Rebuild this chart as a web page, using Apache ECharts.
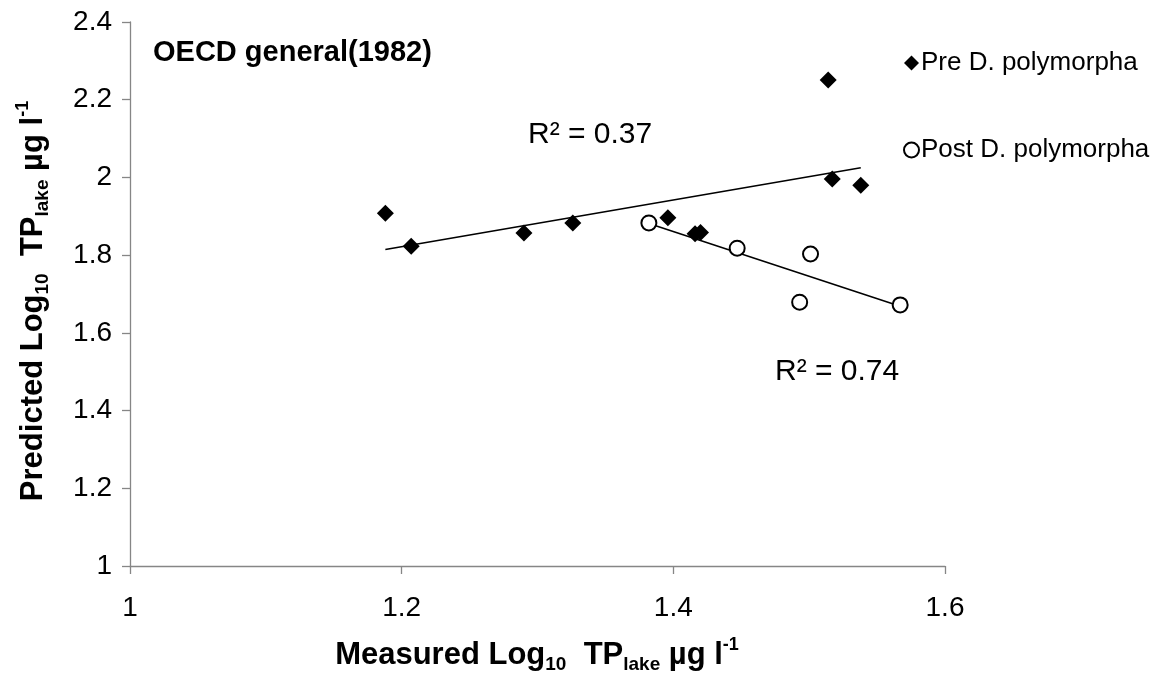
<!DOCTYPE html>
<html><head><meta charset="utf-8">
<script src="https://cdn.jsdelivr.net/npm/echarts@6/dist/echarts.min.js"></script>
<style>html,body{margin:0;padding:0;background:#fff}#c{width:1172px;height:678px}</style>
</head><body><div id="c"></div>
<script>
// ---- data ----
const seriesNames = ['Pre D. polymorpha', 'Post D. polymorpha'];
const preX  = [1.188, 1.207, 1.290, 1.326, 1.396, 1.416, 1.420, 1.514, 1.517, 1.538];
const preY  = [1.908, 1.823, 1.857, 1.883, 1.896, 1.855, 1.858, 2.251, 1.996, 1.980];
const postX = [1.382, 1.447, 1.501, 1.493, 1.567];
const postY = [1.883, 1.818, 1.803, 1.679, 1.672];
const xAxisRange = [1, 1.6, 0.2];
const yAxisRange = [1, 2.4, 0.2];
const r2Labels = ['R\u00b2 = 0.37', 'R\u00b2 = 0.74'];
const chartTitle = 'OECD general(1982)';

const FONT = "'Liberation Sans', Arial, sans-serif";

function pairs(xs, ys) { return xs.map((x, i) => [x, ys[i]]); }
function trend(xs, ys) {
  const n = xs.length;
  const mx = xs.reduce((a, b) => a + b, 0) / n;
  const my = ys.reduce((a, b) => a + b, 0) / n;
  let sxy = 0, sxx = 0;
  for (let i = 0; i < n; i++) { sxy += (xs[i] - mx) * (ys[i] - my); sxx += (xs[i] - mx) ** 2; }
  const b = sxy / sxx, a = my - b * mx;
  const x0 = Math.min(...xs), x1 = Math.max(...xs);
  return [[x0, a + b * x0], [x1, a + b * x1]];
}

const chart = echarts.init(document.getElementById('c'), null, { renderer: 'canvas' });

const axisCommon = {
  type: 'value',
  axisLine: { show: true, lineStyle: { color: '#868686', width: 1.3 } },
  axisTick: { show: true, inside: false, length: 8, lineStyle: { color: '#868686', width: 1.3 } },
  splitLine: { show: false },
  axisLabel: { color: '#000', fontSize: 28, fontFamily: FONT }
};

const titleRich = {
  b: { fontSize: 31, fontWeight: 'bold', fontFamily: FONT, color: '#000', lineHeight: 38 },
  s: { fontSize: 19, fontWeight: 'bold', fontFamily: FONT, color: '#000', lineHeight: 21, verticalAlign: 'bottom' },
  p: { fontSize: 18, fontWeight: 'bold', fontFamily: FONT, color: '#000', lineHeight: 20, verticalAlign: 'top' }
};
const axisTitleText = (word) => '{b|' + word + ' Log}{s|10}{b|  TP}{s|lake}{b| \u00b5g l}{p|-1}';

const plainText = (txt, size, weight) => ({
  text: txt, fontSize: size, fontWeight: weight, fontFamily: FONT, fill: '#000'
});

chart.setOption({
  animation: false,
  backgroundColor: '#fff',
  grid: { left: 130, right: 227, top: 22, bottom: 112 },
  xAxis: Object.assign({}, axisCommon, {
    min: xAxisRange[0], max: xAxisRange[1], interval: xAxisRange[2],
    axisLabel: Object.assign({}, axisCommon.axisLabel, { margin: 28 })
  }),
  yAxis: Object.assign({}, axisCommon, {
    min: yAxisRange[0], max: yAxisRange[1], interval: yAxisRange[2],
    axisLabel: Object.assign({}, axisCommon.axisLabel, { margin: 18 })
  }),
  legend: {
    data: seriesNames,
    orient: 'vertical',
    left: 898, top: 45,
    itemWidth: 15, itemHeight: 15, itemGap: 61,
    textStyle: { fontSize: 26, fontFamily: FONT, color: '#000', lineHeight: 24, padding: [0, 0, 0, -3] }
  },
  graphic: [
    { type: 'text', left: 153, top: 38, style: plainText(chartTitle, 29, 'bold') },
    { type: 'text', left: 528, top: 120, style: plainText(r2Labels[0], 30, 'normal') },
    { type: 'text', left: 775, top: 357, style: plainText(r2Labels[1], 30, 'normal') },
    { type: 'text', x: 537, y: 655,
      style: { text: axisTitleText('Measured'), rich: titleRich, align: 'center', verticalAlign: 'middle' } },
    { type: 'text', x: 33, y: 301, rotation: Math.PI / 2,
      style: { text: axisTitleText('Predicted'), rich: titleRich, align: 'center', verticalAlign: 'middle' } }
  ],
  series: [
    { name: seriesNames[0], type: 'scatter', symbol: 'diamond', symbolSize: 17,
      itemStyle: { color: '#000', opacity: 1 }, data: pairs(preX, preY), z: 3 },
    { name: seriesNames[1], type: 'scatter', symbol: 'emptyCircle', symbolSize: 15,
      itemStyle: { color: '#000', borderColor: '#000', borderWidth: 1.6, opacity: 1 }, data: pairs(postX, postY), z: 3 },
    { name: 'preTrend', type: 'line', data: trend(preX, preY), showSymbol: false, symbol: 'none',
      lineStyle: { color: '#000', width: 1.6 }, silent: true, z: 2 },
    { name: 'postTrend', type: 'line', data: trend(postX, postY), showSymbol: false, symbol: 'none',
      lineStyle: { color: '#000', width: 1.6 }, silent: true, z: 2 }
  ]
});
</script></body></html>
